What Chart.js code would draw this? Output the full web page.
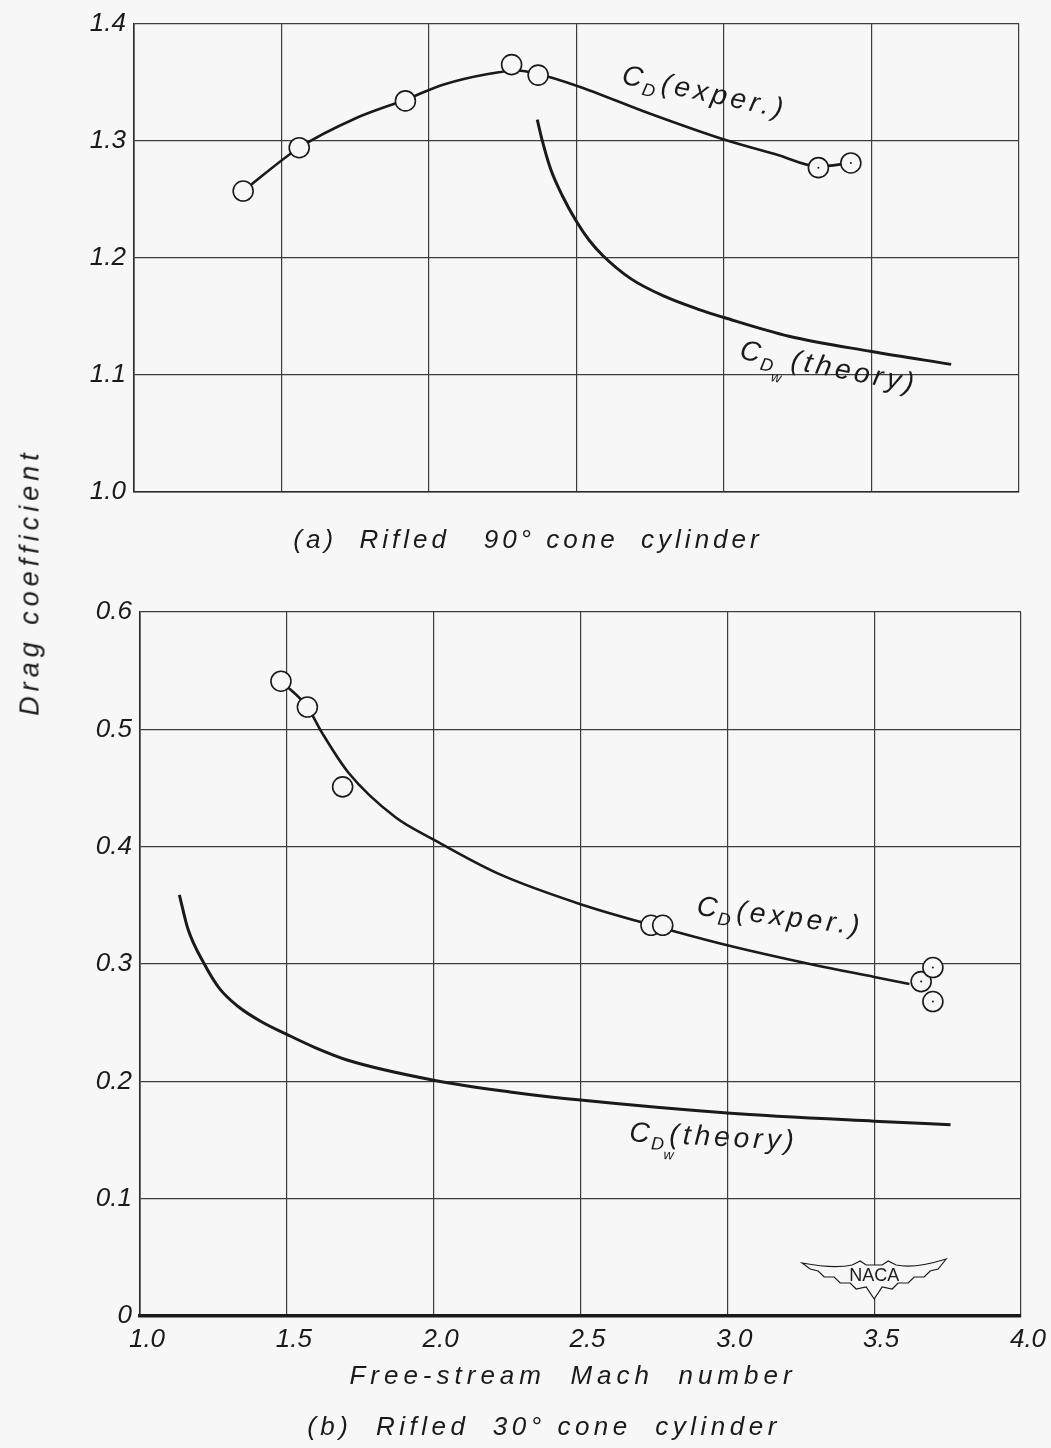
<!DOCTYPE html>
<html>
<head>
<meta charset="utf-8">
<title>Drag coefficient of rifled cone cylinders</title>
<script src="https://cdn.jsdelivr.net/npm/chart.js@4.4.1/dist/chart.umd.min.js"></script>
<style>
  html, body { margin: 0; padding: 0; background: #f7f7f7; }
  #page { position: relative; width: 1051px; height: 1448px; overflow: hidden; }
  canvas { position: absolute; left: 0; }
  #chartA { top: 0; }
  #chartB { top: 560px; }
  #ytitle {
    position: absolute; left: 30px; top: 582px;
    transform: translate(-50%, -50%) rotate(-90deg);
    font: italic 27px 'Liberation Sans', 'DejaVu Sans', sans-serif;
    letter-spacing: 5px; white-space: nowrap; color: #1a1a1a;
  }
</style>
</head>
<body>
<div id="page">
  <canvas id="chartA" width="1051" height="560"></canvas>
  <canvas id="chartB" width="1051" height="888"></canvas>
  <div id="ytitle">Drag coefficient</div>
</div>
<script>
// (a) Rifled 90° cone cylinder -- test points
const machA = [1.37, 1.56, 1.92, 2.28, 2.37, 3.32, 3.43];
const cdA = [1.257, 1.294, 1.334, 1.365, 1.356, 1.277, 1.281];
const dottedA = [false, false, false, false, false, true, true];
// faired experimental curve
const machA_fair = [1.37, 1.56, 1.75, 1.92, 2.05, 2.2, 2.3, 2.37, 2.5, 2.75, 3.0, 3.18, 3.32, 3.43];
const cdA_fair = [1.257, 1.294, 1.319, 1.335, 1.348, 1.357, 1.360, 1.357, 1.347, 1.323, 1.301, 1.288, 1.278, 1.281];
// wave drag theory
const machA_th = [2.367, 2.384, 2.412, 2.452, 2.5, 2.543, 2.589, 2.685, 2.799, 2.913, 3.0, 3.22, 3.5, 3.77];
const cdA_th = [1.318, 1.300, 1.276, 1.253, 1.231, 1.215, 1.202, 1.182, 1.167, 1.156, 1.149, 1.133, 1.120, 1.109];

// (b) Rifled 30° cone cylinder -- test points
const machB = [1.48, 1.57, 1.69, 2.74, 2.78, 3.66, 3.70, 3.70];
const cdB = [0.541, 0.519, 0.451, 0.333, 0.333, 0.285, 0.297, 0.268];
const dottedB = [false, false, false, false, false, true, true, true];
const machB_fair = [1.48, 1.57, 1.62, 1.71, 1.87, 2.0, 2.22, 2.5, 2.76, 3.0, 3.3, 3.5, 3.62];
const cdB_fair = [0.541, 0.519, 0.497, 0.463, 0.425, 0.406, 0.377, 0.351, 0.332, 0.316, 0.299, 0.289, 0.283];
const machB_th = [1.134, 1.163, 1.219, 1.271, 1.333, 1.412, 1.5, 1.594, 1.708, 2.0, 2.26, 2.5, 3.0, 3.5, 3.76];
const cdB_th = [0.359, 0.330, 0.300, 0.279, 0.264, 0.251, 0.240, 0.229, 0.218, 0.201, 0.191, 0.184, 0.173, 0.166, 0.163];

const xTicks = [1.0, 1.5, 2.0, 2.5, 3.0, 3.5, 4.0];
const yTicksA = [1.0, 1.1, 1.2, 1.3, 1.4];
const yTicksB = [0, 0.1, 0.2, 0.3, 0.4, 0.5, 0.6];

const FONT = "'Liberation Sans', 'DejaVu Sans', sans-serif";
const INK = '#1a1a1a';
const PAPER = '#f7f7f7';

function pts(xs, ys) {
  return xs.map((x, i) => ({ x: x, y: ys[i] }));
}

// label drawn along a curve: C, subscript D, optional w, then the rest
function drawCurveLabel(ctx, x, y, angle, sub2, rest) {
  ctx.save();
  ctx.translate(x, y);
  ctx.rotate(angle * Math.PI / 180);
  ctx.fillStyle = INK;
  ctx.textBaseline = 'alphabetic';
  ctx.textAlign = 'left';
  let cx = 0;
  ctx.font = 'italic 28px ' + FONT;
  ctx.letterSpacing = '2px';
  ctx.fillText('C', cx, 0);
  cx += ctx.measureText('C').width;
  ctx.font = 'italic 18px ' + FONT;
  ctx.fillText('D', cx, 7);
  const dW = ctx.measureText('D').width;
  if (sub2) {
    ctx.font = 'italic 14px ' + FONT;
    ctx.fillText(sub2, cx + dW - 2, 16);
  }
  cx += dW + 3;
  ctx.font = 'italic 28px ' + FONT;
  ctx.letterSpacing = '4px';
  ctx.fillText(rest, cx, 0);
  ctx.restore();
}

function drawCaption(ctx, text, x, y, spacing) {
  ctx.save();
  ctx.font = 'italic 26px ' + FONT;
  ctx.letterSpacing = spacing + 'px';
  ctx.fillStyle = INK;
  ctx.textAlign = 'center';
  ctx.textBaseline = 'middle';
  ctx.fillText(text, x, y);
  ctx.restore();
}

function drawNaca(ctx, cx, cy) {
  ctx.save();
  ctx.translate(cx, cy);
  ctx.strokeStyle = INK;
  ctx.lineWidth = 1.2;
  ctx.fillStyle = PAPER;
  ctx.beginPath();
  ctx.moveTo(-72, -12);
  ctx.quadraticCurveTo(-40, -6, -22, -10);
  ctx.lineTo(-14, -14);
  ctx.lineTo(-8, -10);
  ctx.lineTo(8, -10);
  ctx.lineTo(14, -14);
  ctx.lineTo(22, -10);
  ctx.quadraticCurveTo(40, -6, 72, -16);
  ctx.lineTo(64, -6); ctx.lineTo(56, -4); ctx.lineTo(50, 2); ctx.lineTo(40, 2);
  ctx.lineTo(34, 8); ctx.lineTo(24, 8); ctx.lineTo(18, 14); ctx.lineTo(8, 12);
  ctx.lineTo(0, 24);
  ctx.lineTo(-8, 12); ctx.lineTo(-18, 14); ctx.lineTo(-24, 8); ctx.lineTo(-34, 8);
  ctx.lineTo(-40, 2); ctx.lineTo(-50, 2); ctx.lineTo(-56, -4); ctx.lineTo(-64, -6);
  ctx.closePath();
  ctx.fill();
  ctx.stroke();
  ctx.fillStyle = INK;
  ctx.font = '18px ' + FONT;
  ctx.textAlign = 'center';
  ctx.textBaseline = 'middle';
  ctx.fillText('NACA', 0, 1);
  ctx.restore();
}

function datasets(mx, cy, dotted, fx, fy, tx, ty) {
  const dots = pts(mx, cy).filter((p, i) => dotted[i]);
  return [
    { data: dots, showLine: false, pointRadius: 1, pointBorderWidth: 0,
      pointBackgroundColor: INK },
    { data: pts(mx, cy), showLine: false, pointRadius: 10, pointBorderWidth: 1.6,
      pointBorderColor: INK, pointBackgroundColor: PAPER },
    { data: pts(fx, fy), showLine: true, pointRadius: 0, borderColor: INK,
      borderWidth: 2.6, cubicInterpolationMode: 'monotone' },
    { data: pts(tx, ty), showLine: true, pointRadius: 0, borderColor: INK,
      borderWidth: 3, cubicInterpolationMode: 'monotone' }
  ];
}

function gridOpts() {
  return { color: '#3c3c3c', lineWidth: 1.2, drawTicks: false };
}

const tickFont = { family: FONT, size: 26, style: 'italic' };

const labelPluginA = {
  id: 'labelsA',
  afterDatasetsDraw(chart) {
    const ctx = chart.ctx, xs = chart.scales.x, ys = chart.scales.y;
    drawCurveLabel(ctx, xs.getPixelForValue(2.65), ys.getPixelForValue(1.349), 12, '', '(exper.)');
    drawCurveLabel(ctx, xs.getPixelForValue(3.05), ys.getPixelForValue(1.114), 11, 'w', ' (theory)');
    drawCaption(ctx, '(a)  Rifled   90° cone  cylinder', 528, 541, 4);
  }
};

const labelPluginB = {
  id: 'labelsB',
  afterDatasetsDraw(chart) {
    const ctx = chart.ctx, xs = chart.scales.x, ys = chart.scales.y;
    drawCurveLabel(ctx, xs.getPixelForValue(2.893), ys.getPixelForValue(0.342), 7, '', '(exper.)');
    drawCurveLabel(ctx, xs.getPixelForValue(2.665), ys.getPixelForValue(0.149), 3, 'w', '(theory)');
    drawNaca(ctx, xs.getPixelForValue(3.5), chart.chartArea.bottom - 41);
    drawCaption(ctx, 'Free-stream  Mach  number', 573, 1377 - 560, 5);
    drawCaption(ctx, '(b)  Rifled  30° cone  cylinder', 544, 1428 - 560, 4.5);
  }
};

Chart.defaults.color = INK;
Chart.defaults.font.family = FONT;

new Chart(document.getElementById('chartA'), {
  type: 'scatter',
  data: { datasets: datasets(machA, cdA, dottedA, machA_fair, cdA_fair, machA_th, cdA_th) },
  options: {
    responsive: false,
    animation: false,
    devicePixelRatio: 1,
    layout: { padding: { top: 20, right: 32, left: 0, bottom: 0 } },
    plugins: { legend: { display: false }, tooltip: { enabled: false } },
    scales: {
      x: {
        type: 'linear', min: 1, max: 4,
        afterBuildTicks: s => { s.ticks = xTicks.map(v => ({ value: v })); },
        afterFit: s => { s.height = 68; },
        ticks: { display: false },
        grid: gridOpts(),
        border: { color: '#2a2a2a', width: 1.6 }
      },
      y: {
        type: 'linear', min: 1.0, max: 1.4,
        afterBuildTicks: s => { s.ticks = yTicksA.map(v => ({ value: v })); },
        afterFit: s => { s.width = 134; },
        ticks: { font: tickFont, padding: 8, callback: v => v.toFixed(1) },
        grid: gridOpts(),
        border: { color: '#2a2a2a', width: 1.6 }
      }
    }
  },
  plugins: [labelPluginA]
});

new Chart(document.getElementById('chartB'), {
  type: 'scatter',
  data: { datasets: datasets(machB, cdB, dottedB, machB_fair, cdB_fair, machB_th, cdB_th) },
  options: {
    responsive: false,
    animation: false,
    devicePixelRatio: 1,
    layout: { padding: { top: 52, right: 30, left: 0, bottom: 0 } },
    plugins: { legend: { display: false }, tooltip: { enabled: false } },
    scales: {
      x: {
        type: 'linear', min: 1, max: 4,
        afterBuildTicks: s => { s.ticks = xTicks.map(v => ({ value: v })); },
        afterFit: s => { s.height = 132; },
        ticks: { font: tickFont, padding: 8, labelOffset: 7, callback: v => v.toFixed(1) },
        grid: gridOpts(),
        border: { color: '#1a1a1a', width: 3.5 }
      },
      y: {
        type: 'linear', min: 0, max: 0.6,
        afterBuildTicks: s => { s.ticks = yTicksB.map(v => ({ value: v })); },
        afterFit: s => { s.width = 140; },
        ticks: { font: tickFont, padding: 8, callback: v => v === 0 ? '0' : v.toFixed(1) },
        grid: gridOpts(),
        border: { color: '#2a2a2a', width: 1.6 }
      }
    }
  },
  plugins: [labelPluginB]
});
</script>
</body>
</html>
